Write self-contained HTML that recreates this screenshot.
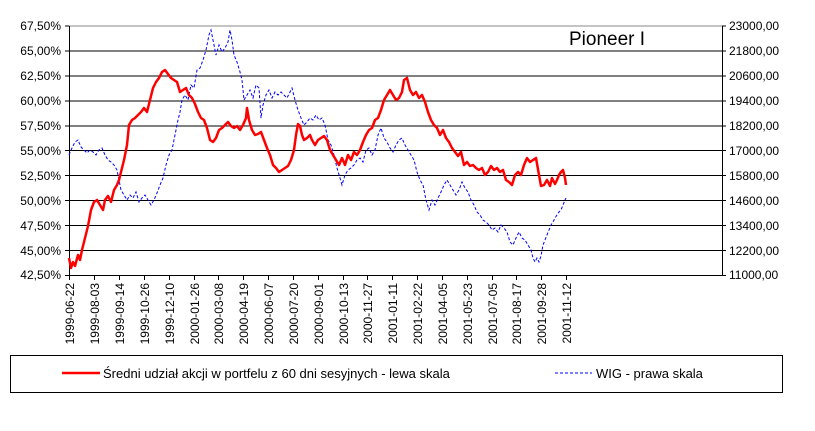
<!DOCTYPE html>
<html><head><meta charset="utf-8"><style>
body{margin:0;background:#fff;}
svg{display:block;font-family:"Liberation Sans",Arial,sans-serif;}
</style></head><body>
<svg width="815" height="431" viewBox="0 0 815 431" xmlns="http://www.w3.org/2000/svg">
<rect width="815" height="431" fill="#fff"/>
<g stroke="#000" stroke-width="1">
<line x1="69" y1="26" x2="722" y2="26" stroke="#888"/>
<line x1="69" y1="51" x2="722" y2="51"/>
<line x1="69" y1="76" x2="722" y2="76"/>
<line x1="69" y1="101" x2="722" y2="101"/>
<line x1="69" y1="126" x2="722" y2="126"/>
<line x1="69" y1="150.5" x2="722" y2="150.5"/>
<line x1="69" y1="175.5" x2="722" y2="175.5"/>
<line x1="69" y1="200.5" x2="722" y2="200.5"/>
<line x1="69" y1="225.5" x2="722" y2="225.5"/>
<line x1="69" y1="250.5" x2="722" y2="250.5"/>
<line x1="69" y1="275.5" x2="722" y2="275.5"/>
<line x1="69.5" y1="26" x2="69.5" y2="275"/>
<line x1="722.5" y1="26" x2="722.5" y2="275"/>
</g>
<g stroke="#000">
<path d="M65 26h4M65 51h4M65 76h4M65 101h4M65 126h4M65 150.5h4M65 175.5h4M65 200.5h4M65 225.5h4M65 250.5h4M65 275.5h4"/>
<path d="M722 26h4M722 51h4M722 76h4M722 101h4M722 126h4M722 150.5h4M722 175.5h4M722 200.5h4M722 225.5h4M722 250.5h4M722 275.5h4"/>
<path d="M69.5 275v5M94.5 275v5M119.5 275v5M144.5 275v5M169.5 275v5M194.5 275v5M218.5 275v5M243.5 275v5M268.5 275v5M293.5 275v5M318.5 275v5M343.5 275v5M367.5 275v5M392.5 275v5M417.5 275v5M442.5 275v5M467.5 275v5M492.5 275v5M516.5 275v5M541.5 275v5M566.5 275v5"/>
</g>
<g font-size="12" text-anchor="end" fill="#000">
<text x="61" y="30">67,50%</text><text x="61" y="55">65,00%</text><text x="61" y="80">62,50%</text><text x="61" y="105">60,00%</text><text x="61" y="130">57,50%</text><text x="61" y="155">55,00%</text><text x="61" y="180">52,50%</text><text x="61" y="205">50,00%</text><text x="61" y="230">47,50%</text><text x="61" y="255">45,00%</text><text x="61" y="279">42,50%</text>
</g>
<g font-size="12" text-anchor="start" fill="#000">
<text x="729" y="30">23000,00</text><text x="729" y="55">21800,00</text><text x="729" y="80">20600,00</text><text x="729" y="105">19400,00</text><text x="729" y="130">18200,00</text><text x="729" y="155">17000,00</text><text x="729" y="180">15800,00</text><text x="729" y="205">14600,00</text><text x="729" y="230">13400,00</text><text x="729" y="255">12200,00</text><text x="729" y="279">11000,00</text>
</g>
<g font-size="12" text-anchor="end" fill="#000">
<text transform="translate(74,283) rotate(-90)">1999-06-22</text>
<text transform="translate(99,283) rotate(-90)">1999-08-03</text>
<text transform="translate(124,283) rotate(-90)">1999-09-14</text>
<text transform="translate(149,283) rotate(-90)">1999-10-26</text>
<text transform="translate(174,283) rotate(-90)">1999-12-10</text>
<text transform="translate(199,283) rotate(-90)">2000-01-26</text>
<text transform="translate(223,283) rotate(-90)">2000-03-08</text>
<text transform="translate(248,283) rotate(-90)">2000-04-19</text>
<text transform="translate(273,283) rotate(-90)">2000-06-07</text>
<text transform="translate(298,283) rotate(-90)">2000-07-20</text>
<text transform="translate(323,283) rotate(-90)">2000-09-01</text>
<text transform="translate(348,283) rotate(-90)">2000-10-13</text>
<text transform="translate(372,283) rotate(-90)">2000-11-27</text>
<text transform="translate(397,283) rotate(-90)">2001-01-11</text>
<text transform="translate(422,283) rotate(-90)">2001-02-22</text>
<text transform="translate(447,283) rotate(-90)">2001-04-05</text>
<text transform="translate(472,283) rotate(-90)">2001-05-23</text>
<text transform="translate(497,283) rotate(-90)">2001-07-05</text>
<text transform="translate(521,283) rotate(-90)">2001-08-17</text>
<text transform="translate(546,283) rotate(-90)">2001-09-28</text>
<text transform="translate(571,283) rotate(-90)">2001-11-12</text>
</g>
<polyline fill="none" stroke="#0000ff" stroke-width="1" stroke-dasharray="3,2" points="69,155 72,148 75,142 78,140 81,147 84,150 87,153 90,150 93,152 96,155 99,150 102,148 105,155 108,160 111,162 114,165 117,170 119,180 121,190 124,195 127,200 130,195 133,198 136,192 139,202 142,198 145,195 148,200 151,205 154,200 157,193 160,185 163,178 166,165 169,155 172,150 175,135 178,120 180,112 182,100 185,95 188,100 191,85 194,88 197,70 200,68 203,60 206,50 209,35 211,30 213,40 216,55 219,45 222,52 225,48 228,42 230,30 232,40 234,55 237,62 240,72 242,80 244,100 247,95 250,90 253,98 256,85 259,88 261,118 263,105 266,95 269,90 272,98 275,92 278,95 281,92 284,95 287,98 290,92 292,88 295,100 298,110 301,118 304,125 307,122 310,118 313,120 316,115 319,120 322,118 325,125 328,140 331,145 334,155 337,168 340,178 342,185 345,175 348,170 351,168 354,165 357,160 360,158 363,162 366,150 369,148 372,155 375,150 378,135 381,128 384,138 387,142 390,148 393,152 396,145 399,140 402,138 405,145 408,150 411,155 414,160 417,172 420,180 423,185 426,200 429,210 432,200 435,205 438,198 441,192 444,185 447,180 450,185 453,190 456,195 459,190 462,182 465,188 468,192 471,200 474,205 477,212 480,215 483,220 486,222 489,225 492,230 495,228 498,232 501,225 504,228 507,232 510,242 513,245 516,238 519,232 522,238 525,240 528,245 531,250 533,258 535,262 537,258 539,262 541,256 543,245 545,240 547,235 549,230 551,225 553,222 555,218 557,215 559,212 561,210 563,205 565,200 566,198"/>
<polyline fill="none" stroke="#ff0000" stroke-width="2.5" stroke-linejoin="round" points="69,258 71,268 73,262 75,266 78,255 80,260 82,250 85,238 88,226 91,210 94,202 97,200 100,205 103,210 105,200 108,196 111,202 114,190 117,185 119,180 121,172 124,160 127,145 129,125 132,120 135,118 138,115 141,112 144,108 147,112 150,100 153,88 156,82 159,78 162,72 165,70 168,74 171,78 174,80 177,82 180,92 183,90 186,88 189,95 192,98 195,104 198,112 201,118 204,120 207,128 210,140 213,142 216,138 219,130 222,128 225,125 228,122 231,126 234,128 237,126 240,130 243,125 246,118 247,108 249,120 252,130 255,135 258,134 261,132 264,140 267,148 270,155 273,165 276,168 279,172 282,170 285,168 288,166 291,160 294,150 296,135 298,124 300,126 302,135 304,140 307,138 310,135 312,140 315,145 318,140 321,138 324,136 327,140 330,150 333,155 336,160 339,165 342,158 345,165 348,155 351,160 354,152 357,155 360,150 363,142 366,135 369,130 372,128 375,120 378,118 381,110 384,100 387,95 390,90 393,95 396,100 399,98 402,92 404,80 407,78 410,90 413,95 416,92 419,98 422,95 425,102 428,112 431,120 434,125 437,128 440,135 443,130 446,138 449,142 452,148 455,152 458,156 461,152 464,165 467,162 470,166 473,165 476,168 479,170 482,168 485,175 488,172 491,166 494,170 497,168 500,172 503,170 506,180 509,182 512,185 515,175 518,172 521,175 524,165 527,158 530,162 533,160 536,158 539,175 541,186 544,185 547,180 550,186 552,178 555,184 557,180 559,175 561,172 563,170 565,178 566,185"/>
<text x="569" y="45" font-size="19" fill="#000">Pioneer I</text>
<rect x="10.5" y="355.5" width="772" height="37" fill="none" stroke="#000"/>
<line x1="62" y1="373" x2="100" y2="373" stroke="#ff0000" stroke-width="2.5"/>
<text x="103" y="378" font-size="13">Średni udział akcji w portfelu z 60 dni sesyjnych - lewa skala</text>
<line x1="555" y1="373" x2="592" y2="373" stroke="#0000ff" stroke-width="1" stroke-dasharray="3,2"/>
<text x="596" y="378" font-size="13">WIG - prawa skala</text>
</svg>
</body></html>
